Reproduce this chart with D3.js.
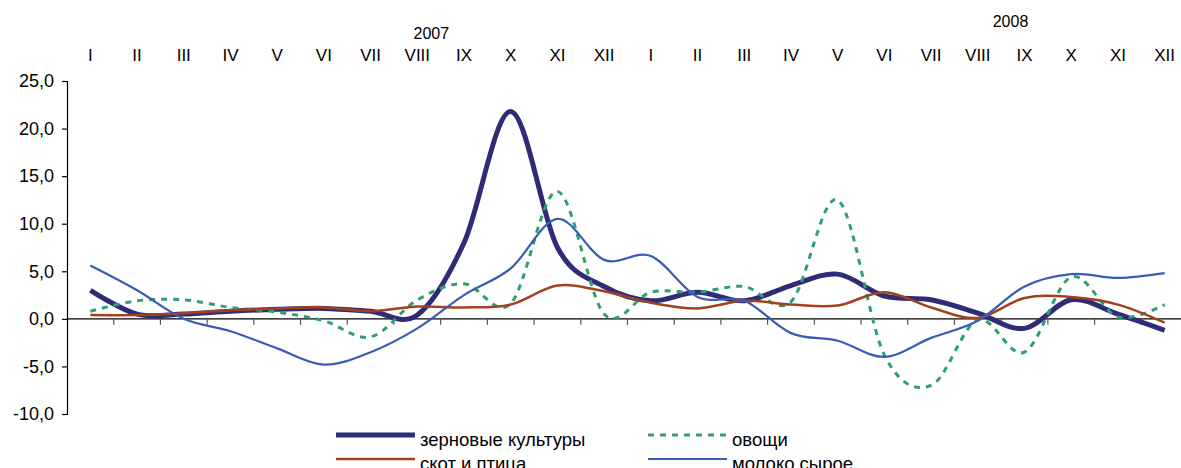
<!DOCTYPE html>
<html>
<head>
<meta charset="utf-8">
<script src="https://cdn.jsdelivr.net/npm/d3@7"></script>
<style>
  html, body { margin: 0; padding: 0; background: #fff; }
  svg { display: block; }
  text { font-family: "Liberation Sans", Arial, sans-serif; fill: #000; }
</style>
</head>
<body>
<svg id="chart" width="1181" height="468"></svg>
<script>
// Monthly categories, 2007–2008
const months = ["I","II","III","IV","V","VI","VII","VIII","IX","X","XI","XII",
                "I","II","III","IV","V","VI","VII","VIII","IX","X","XI","XII"];
const years = ["2007", "2008"];
const yearSlot = [7.3, 19.7];
const yTicks = [25, 20, 15, 10, 5, 0, -5, -10];

// Series values, % change per month
const grain = [3.0, 0.5, 0.5, 0.8, 1.0, 1.1, 0.8, 0.4, 8.0, 21.8, 7.5, 3.4,
               1.9, 2.8, 1.9, 3.5, 4.7, 2.4, 2.0, 0.6, -1.0, 2.0, 0.5, -1.2];
const vegetables = [0.8, 1.9, 2.0, 1.2, 0.7, -0.2, -1.9, 2.0, 3.7, 1.6, 13.4, 0.5,
                    2.8, 2.8, 3.4, 1.8, 12.5, -3.8, -7.0, -0.1, -3.5, 4.4, 0.2, 1.5];
const livestock = [0.4, 0.4, 0.6, 0.9, 1.1, 1.2, 0.8, 1.3, 1.2, 1.5, 3.5, 2.9,
                   1.7, 1.1, 1.9, 1.5, 1.4, 2.8, 1.2, 0.1, 2.2, 2.3, 1.5, -0.4];
const milk = [5.6, 3.0, 0.0, -1.3, -3.1, -4.8, -3.5, -1.0, 2.5, 5.3, 10.5, 6.2,
              6.6, 2.3, 1.9, -1.5, -2.3, -4.0, -2.0, -0.2, 3.4, 4.7, 4.3, 4.8];

const series = [
  {name: "зерновые культуры", values: grain,      color: "#2f2b77", width: 5,   dash: null},
  {name: "овощи",             values: vegetables, color: "#2f9e72", width: 3,   dash: "6,6"},
  {name: "скот и птица",      values: livestock,  color: "#a3401d", width: 2.5, dash: null},
  {name: "молоко сырое",      values: milk,       color: "#3a5cb4", width: 2.2, dash: null}
];

const svg = d3.select("#chart");
const plot = {left: 67, right: 1188, top: 81, bottom: 414};

const x = d3.scaleBand().domain(d3.range(months.length)).range([plot.left, plot.right]).padding(0);
const y = d3.scaleLinear().domain([-10, 25]).range([plot.bottom, plot.top]);
const cx = i => x(i) + x.bandwidth() / 2;
// position for a fractional slot (year captions sit between months)
const slotX = s => plot.left + x.bandwidth() * (s + 0.5);

// Y axis
const yAxis = svg.append("g").attr("transform", `translate(${plot.left},0)`)
  .call(d3.axisLeft(y).tickValues(yTicks).tickSize(5).tickPadding(8)
    .tickFormat(d => d3.format(".1f")(d).replace(".", ",").replace("−", "-")));
yAxis.select(".domain").attr("stroke", "#000").attr("stroke-width", 1.2);
yAxis.selectAll(".tick line").attr("stroke", "#000").attr("stroke-width", 1.2);
yAxis.selectAll(".tick text").style("font-size", "18px").attr("fill", "#000");

// Category axis along zero, ticks between months
const xAxis = svg.append("g");
xAxis.append("line")
  .attr("x1", plot.left).attr("x2", plot.right)
  .attr("y1", y(0)).attr("y2", y(0))
  .attr("stroke", "#000").attr("stroke-width", 1.2);
xAxis.selectAll("line.tick")
  .data(d3.range(1, months.length))
  .join("line").attr("class", "tick")
  .attr("x1", d => x(d)).attr("x2", d => x(d))
  .attr("y1", y(0)).attr("y2", y(0) + 6)
  .attr("stroke", "#555").attr("stroke-width", 1.2);

// Month labels along the top
svg.append("g").selectAll("text")
  .data(months)
  .join("text")
  .attr("x", (d, i) => cx(i))
  .attr("y", 55)
  .attr("text-anchor", "middle")
  .attr("dominant-baseline", "central")
  .style("font-size", "17px")
  .text(d => d);

// Year labels
svg.append("g").selectAll("text")
  .data(years)
  .join("text")
  .attr("x", (d, i) => slotX(yearSlot[i]))
  .attr("y", (d, i) => i === 0 ? 33 : 21)
  .attr("text-anchor", "middle")
  .attr("dominant-baseline", "central")
  .style("font-size", "16px")
  .text(d => d);

// Smoothed series lines
const line = d3.line()
  .x((d, i) => cx(i))
  .y(d => y(d))
  .curve(d3.curveCardinal.tension(0));

svg.append("g").selectAll("path")
  .data(series)
  .join("path")
  .attr("d", d => line(d.values))
  .attr("fill", "none")
  .attr("stroke", d => d.color)
  .attr("stroke-width", d => d.width)
  .attr("stroke-dasharray", d => d.dash)
  .attr("stroke-linejoin", "round");

// Legend, two columns by two rows
const legendPos = [
  {x: 336, y: 435}, {x: 648, y: 435},
  {x: 336, y: 459}, {x: 648, y: 459}
];
const legend = svg.append("g").selectAll("g")
  .data(series)
  .join("g")
  .attr("transform", (d, i) => `translate(${legendPos[i].x},${legendPos[i].y})`);
legend.append("line")
  .attr("x1", 0).attr("x2", 79)
  .attr("stroke", d => d.color)
  .attr("stroke-width", d => d.width)
  .attr("stroke-dasharray", d => d.dash);
legend.append("text")
  .attr("x", 84).attr("y", 4)
  .attr("dominant-baseline", "central")
  .style("font-size", "18.5px")
  .text(d => d.name);
</script>
</body>
</html>
